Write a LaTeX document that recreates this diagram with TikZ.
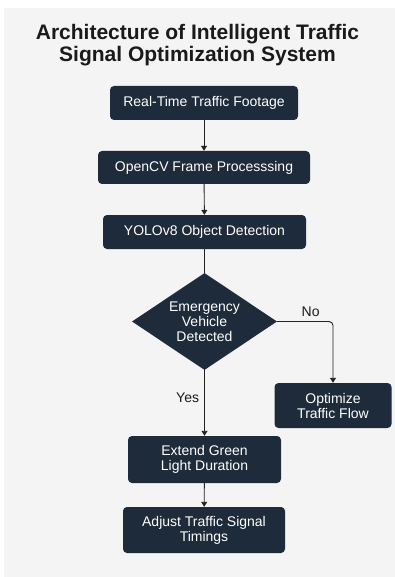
\documentclass[tikz,border=0pt]{standalone}
\usepackage{fontspec}
\setmainfont{Liberation Sans}
\usetikzlibrary{arrows.meta,shapes.geometric}
\definecolor{navy}{RGB}{30,43,58}
\definecolor{bggray}{RGB}{244,244,244}
\definecolor{linec}{RGB}{34,34,34}
\definecolor{titlec}{RGB}{26,26,26}
\tikzset{
  box/.style={draw=none, fill=navy, rounded corners=4pt, text=white, align=center, inner sep=0pt,
    font=\fontsize{14}{15}\selectfont},
  dia/.style={diamond, fill=navy, text=white, align=center, inner sep=0pt, shape aspect=1.5,
    minimum width=145pt, minimum height=97pt, font=\fontsize{14}{15}\selectfont},
  conn/.style={draw=linec, line width=0.9pt},
  arr/.style={conn, -{Triangle[width=6pt,length=5pt]}},
  lbl/.style={text=titlec, font=\fontsize{14}{15}\selectfont, inner sep=0pt}
}
\begin{document}
\begin{tikzpicture}[x=1pt,y=-1pt]
\useasboundingbox (0,0) rectangle (395,577);
\fill[white] (0,0) rectangle (395,577);
\fill[bggray] (4,8) rectangle (395,577);
\node[text=titlec, align=center, font=\fontsize{21}{22.5}\selectfont\bfseries, inner sep=0pt] (title) at (197.5,45)
  {Architecture of Intelligent Traffic\\Signal Optimization System};
\node[box, minimum width=188pt, minimum height=34pt] (b1) at (204,103) {Real-Time Traffic Footage};
\node[box, minimum width=212pt, minimum height=33pt] (b2) at (204,167.5) {OpenCV Frame Processsing};
\node[box, minimum width=203pt, minimum height=34pt] (b3) at (204.5,232) {YOLOv8 Object Detection};
\node[dia] (d) at (204.5,321.5) {Emergency\\Vehicle\\Detected};
\node[box, minimum width=117pt, minimum height=45pt] (opt) at (333,405.5) {Optimize\\Traffic Flow};
\node[box, minimum width=153pt, minimum height=47pt] (ext) at (204.5,459.5) {Extend Green\\Light Duration};
\node[box, minimum width=162pt, minimum height=46pt] (adj) at (204,530) {Adjust Traffic Signal\\Timings};
\draw[arr] (b1) -- (b2);
\draw[arr] (b2) -- (b3);
\draw[conn] (b3) -- (d);
\draw[arr] (d) -- node[lbl, pos=0.42, left=5pt] {Yes} (ext);
\draw[arr, rounded corners=4pt] (d.east) -| node[lbl, pos=0.3, above=4pt] {No} (opt.north);
\draw[arr] (ext) -- (adj);
\end{tikzpicture}
\end{document}
